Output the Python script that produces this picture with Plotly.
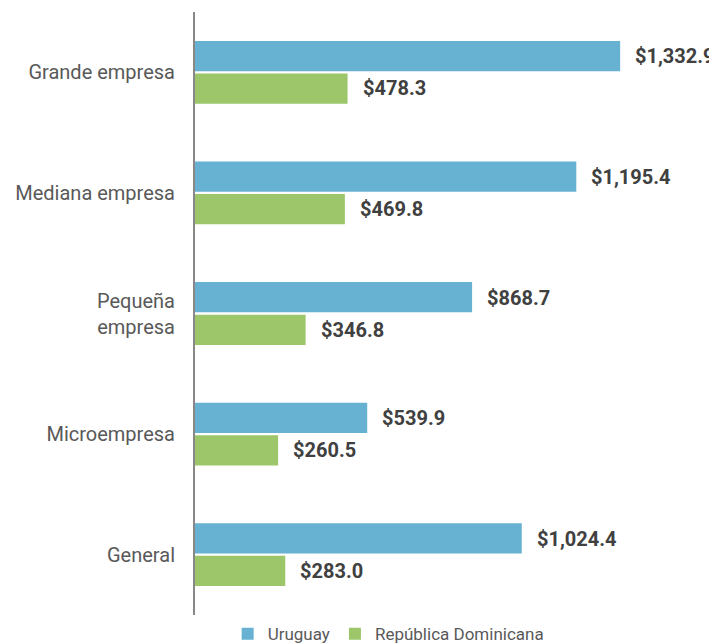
import plotly.graph_objects as go

categories = ["Grande empresa", "Mediana empresa", "Pequeña<br>empresa", "Microempresa", "General"]
uruguay = [1332.9, 1195.4, 868.7, 539.9, 1024.4]
rep_dom = [478.3, 469.8, 346.8, 260.5, 283.0]
series_names = ["Uruguay", "República Dominicana"]
colors = ["#67b2d2", "#9dc66b"]

fig = go.Figure()
for name, vals, col in zip(series_names, [uruguay, rep_dom], colors):
    fig.add_trace(go.Bar(
        y=categories, x=vals, name=name, orientation="h",
        marker=dict(color=col, line=dict(width=0)),
    ))

annotations = []
for vals, shift in [(uruguay, 16), (rep_dom, -16)]:
    for c, v in zip(categories, vals):
        annotations.append(dict(
            x=v, y=c, xref="x", yref="y", text=f"<b>${v:,.1f}</b>",
            showarrow=False, xanchor="left", yanchor="middle",
            xshift=13, yshift=shift,
            font=dict(family="Roboto", size=20, color="#404040"),
        ))

fig.update_layout(
    width=709, height=635,
    margin=dict(l=187, r=11, t=4, b=28, autoexpand=False),
    plot_bgcolor="white", paper_bgcolor="white",
    barmode="group", bargap=0.46, bargroupgap=0.07,
    annotations=annotations,
    showlegend=True,
    legend=dict(orientation="h", x=0.379, xanchor="center",
                yref="container", y=0.014, yanchor="middle",
                font=dict(family="Roboto", size=17, color="#595959"),
                itemwidth=30, tracegroupgap=0),
    xaxis=dict(range=[0, 1602], showgrid=False, zeroline=False, showticklabels=False,
               showline=False, ticks="", automargin=False),
    yaxis=dict(autorange="reversed", showline=True, linecolor="#888888", linewidth=2,
               ticks="", ticklabelstandoff=14, showgrid=False, automargin=False,
               tickfont=dict(family="Roboto", size=20, color="#595959")),
)

fig.write_html("out.html")
